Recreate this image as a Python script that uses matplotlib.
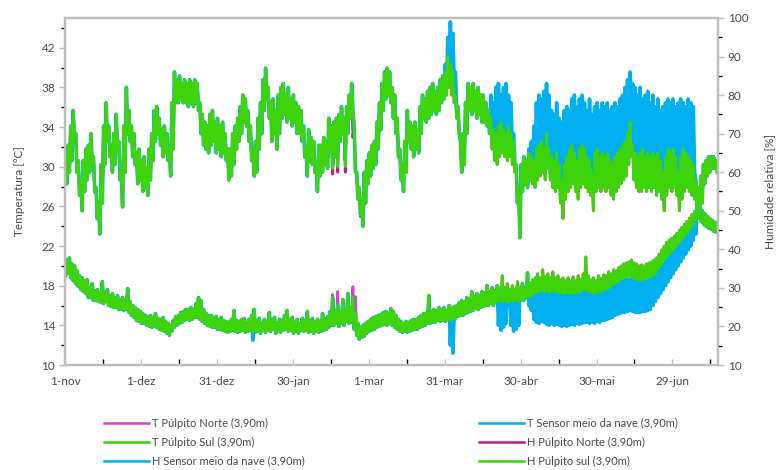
import numpy as np
import matplotlib
matplotlib.use("Agg")
import matplotlib.pyplot as plt
from matplotlib.lines import Line2D
from matplotlib.ticker import MultipleLocator, FixedLocator

plt.rcParams['font.family'] = ['Lato', 'DejaVu Sans']

# x axis: days counted from 1 November
tick_days = [0, 30, 60, 90, 120, 150, 180, 210, 240]
tick_labels = ["1-nov", "1-dez", "31-dez", "30-jan", "1-mar", "31-mar", "30-abr", "30-mai", "29-jun"]

series_labels = [
    "T Púlpito Norte (3,90m)", "T Sensor meio da nave (3,90m)", "T Púlpito Sul (3,90m)",
    "H Púlpito Norte (3,90m)", "H Sensor meio da nave (3,90m)", "H Púlpito sul (3,90m)",
]

# daily (minimum, maximum) temperature [ºC]
t_sul = [
    (19.0, 20.6), (19.3, 20.8), (18.8, 20.2), (18.5, 20.0), (18.2, 19.5), (17.9, 19.0), (17.6, 18.8), (17.4, 18.5), (17.2, 18.6), (16.8, 17.8),
    (16.8, 18.2), (16.5, 17.5), (16.5, 17.6), (16.4, 17.3), (16.3, 18.4), (16.2, 17.2), (16.4, 17.6), (16.0, 17.0), (15.9, 17.2), (15.8, 16.8),
    (15.8, 17.0), (15.6, 16.6), (15.6, 16.8), (15.5, 16.5), (15.6, 17.7), (15.3, 16.4), (15.0, 16.0), (14.8, 15.8), (14.5, 15.6), (14.4, 15.4),
    (14.2, 15.2), (14.2, 15.0), (14.0, 14.9), (13.9, 15.0), (13.8, 14.8), (13.9, 15.2), (13.8, 14.7), (13.6, 14.6), (13.5, 14.8), (13.4, 14.4),
    (13.2, 14.2), (13.0, 14.0), (13.4, 14.5), (13.8, 14.9), (14.0, 15.0), (14.2, 15.3), (14.3, 15.4), (14.5, 15.6), (14.6, 15.6), (14.5, 15.8),
    (14.6, 15.6), (14.8, 16.2), (14.8, 16.8), (14.6, 16.5), (14.4, 15.6), (14.2, 15.2), (14.0, 15.0), (13.9, 15.0), (13.8, 14.8), (13.8, 14.9),
    (13.6, 14.6), (13.6, 14.8), (13.5, 14.5), (13.4, 14.4), (13.3, 14.3), (13.4, 14.6), (13.5, 15.5), (13.4, 14.5), (13.3, 14.4), (13.4, 14.6),
    (13.5, 14.7), (13.3, 14.3), (13.4, 14.6), (13.5, 15.0), (13.4, 15.6), (13.3, 14.4), (13.4, 14.7), (13.2, 14.2), (13.5, 14.6), (13.3, 14.4),
    (13.5, 15.3), (13.4, 14.5), (13.6, 14.8), (13.2, 14.2), (13.4, 14.6), (13.3, 14.5), (13.5, 15.0), (13.6, 15.5), (13.4, 14.5), (13.5, 14.8),
    (13.2, 14.3), (13.4, 14.6), (13.2, 14.2), (13.5, 14.7), (13.4, 14.5), (13.5, 15.4), (13.3, 14.4), (13.4, 14.7), (13.2, 14.3), (13.4, 14.6),
    (13.3, 14.4), (13.4, 15.2), (13.5, 14.6), (13.6, 14.9), (13.8, 15.4), (14.0, 16.8), (14.0, 15.4), (14.2, 16.0), (13.9, 15.2), (14.2, 16.6),
    (14.0, 15.3), (14.4, 17.2), (14.2, 15.8), (14.3, 16.8), (13.6, 15.2), (13.0, 14.2), (12.6, 13.8), (12.8, 14.0), (12.9, 14.2), (13.2, 14.4),
    (13.4, 14.6), (13.5, 14.8), (13.6, 14.9), (13.8, 15.0), (13.9, 15.1), (14.0, 15.3), (14.1, 15.4), (14.0, 15.2), (14.2, 15.7), (14.0, 15.4),
    (13.8, 15.0), (13.6, 14.6), (13.4, 14.4), (13.3, 14.2), (13.4, 14.4), (13.3, 14.3), (13.4, 14.5), (13.5, 14.6), (13.6, 14.6), (13.6, 14.8),
    (13.8, 15.0), (13.9, 15.2), (14.0, 15.2), (14.2, 17.0), (14.2, 15.4), (14.3, 15.6), (14.3, 15.5), (14.5, 15.8), (14.4, 15.6), (14.5, 15.8),
    (14.4, 15.5), (14.6, 16.0), (14.5, 15.8), (14.6, 15.9), (14.7, 16.0), (14.9, 16.3), (15.0, 16.5), (15.0, 16.4), (15.2, 16.8), (15.3, 16.7),
    (15.4, 17.4), (15.5, 16.9), (15.7, 17.2), (15.6, 17.0), (15.8, 17.4), (15.9, 17.3), (16.0, 18.0), (16.0, 17.4), (16.2, 17.8), (16.0, 17.5),
    (16.3, 18.0), (16.4, 17.8), (16.5, 19.0), (16.4, 17.8), (16.5, 18.2), (16.3, 17.6), (16.5, 18.0), (16.4, 17.6), (16.6, 18.4), (16.4, 17.8),
    (16.6, 18.2), (16.5, 17.8), (16.8, 19.3), (16.9, 18.3), (17.0, 18.6), (17.2, 18.8), (17.3, 19.2), (17.4, 18.8), (17.5, 19.6), (17.4, 18.9),
    (17.5, 19.2), (17.3, 18.8), (17.5, 19.4), (17.4, 18.8), (17.4, 19.0), (17.3, 18.6), (17.3, 18.8), (17.2, 18.5), (17.3, 18.8), (17.2, 18.4),
    (17.3, 18.9), (17.2, 18.5), (17.4, 19.0), (17.3, 18.6), (17.5, 19.2), (17.6, 20.9), (17.5, 19.0), (17.3, 18.6), (17.3, 18.8), (17.2, 18.5),
    (17.4, 19.0), (17.3, 18.7), (17.5, 19.1), (17.6, 19.0), (17.7, 19.4), (17.8, 19.2), (18.0, 19.6), (18.2, 19.5), (18.4, 19.8), (18.6, 20.0),
    (18.7, 20.2), (18.8, 20.3), (18.9, 20.4), (19.0, 20.6), (18.8, 20.3), (18.7, 20.2), (18.6, 20.0), (18.6, 20.1), (18.6, 20.0), (18.7, 20.2),
    (18.8, 20.3), (18.9, 20.4), (19.0, 20.6), (19.2, 20.8), (19.6, 21.2), (20.0, 21.6), (20.4, 22.0), (20.8, 22.4), (21.0, 22.6), (21.3, 22.8),
    (21.6, 23.0), (21.9, 23.3), (22.2, 23.6), (22.5, 23.9), (22.8, 24.2), (23.1, 24.5), (23.4, 24.8), (23.8, 25.2), (24.2, 25.5), (24.6, 25.9),
    (24.8, 25.9), (24.5, 25.6), (24.2, 25.3), (24.0, 25.0), (23.8, 24.8), (23.7, 24.6), (23.5, 24.4), (23.4, 24.3),
]

t_norte = [
    (19.0, 20.6), (19.3, 20.8), (18.8, 20.2), (18.5, 20.0), (18.2, 19.5), (17.9, 19.0), (17.6, 18.8), (17.4, 18.5), (17.2, 18.6), (16.8, 17.8),
    (16.8, 18.2), (16.5, 17.5), (16.5, 17.6), (16.4, 17.3), (16.3, 18.4), (16.2, 17.2), (16.4, 17.6), (16.0, 17.0), (15.9, 17.2), (15.8, 16.8),
    (15.8, 17.0), (15.6, 16.6), (15.6, 16.8), (15.5, 16.5), (15.6, 17.7), (15.3, 16.4), (15.0, 16.0), (14.8, 15.8), (14.5, 15.6), (14.4, 15.4),
    (14.2, 15.2), (14.2, 15.0), (14.0, 14.9), (13.9, 15.0), (13.8, 14.8), (13.9, 15.2), (13.8, 14.7), (13.6, 14.6), (13.5, 14.8), (13.4, 14.4),
    (13.2, 14.2), (13.0, 14.0), (13.4, 14.5), (13.8, 14.9), (14.0, 15.0), (14.2, 15.3), (14.3, 15.4), (14.5, 15.6), (14.6, 15.6), (14.5, 15.8),
    (14.6, 15.6), (14.8, 16.2), (14.8, 16.8), (14.6, 16.5), (14.4, 15.6), (14.2, 15.2), (14.0, 15.0), (13.9, 15.0), (13.8, 14.8), (13.8, 14.9),
    (13.6, 14.6), (13.6, 14.8), (13.5, 14.5), (13.4, 14.4), (13.3, 14.3), (13.4, 14.6), (13.5, 15.5), (13.4, 14.5), (13.3, 14.4), (13.4, 14.6),
    (13.5, 14.7), (13.3, 14.3), (13.4, 14.6), (13.5, 15.0), (13.4, 15.6), (13.3, 14.4), (13.4, 14.7), (13.2, 14.2), (13.5, 14.6), (13.3, 14.4),
    (13.5, 15.3), (13.4, 14.5), (13.6, 14.8), (13.2, 14.2), (13.4, 14.6), (13.3, 14.5), (13.5, 15.0), (13.6, 15.5), (13.4, 14.5), (13.5, 14.8),
    (13.2, 14.3), (13.4, 14.6), (13.2, 14.2), (13.5, 14.7), (13.4, 14.5), (13.5, 15.4), (13.3, 14.4), (13.4, 14.7), (13.2, 14.3), (13.4, 14.6),
    (13.3, 14.4), (13.4, 15.2), (13.5, 14.6), (13.6, 14.9), (13.8, 15.4), (14.0, 17.1), (14.0, 15.4), (14.2, 17.4), (13.9, 15.2), (14.2, 16.6),
    (14.0, 15.3), (14.4, 17.2), (14.2, 15.8), (14.3, 17.9), (13.6, 16.9), (13.0, 14.2), (12.6, 13.8), (12.8, 14.0), (12.9, 14.2), (13.2, 14.4),
    (13.4, 14.6), (13.5, 14.8), (13.6, 14.9), (13.8, 15.0), (13.9, 15.1), (14.0, 15.3), (14.1, 15.4), (14.0, 15.2), (14.2, 15.7), (14.0, 15.4),
    (13.8, 15.0), (13.6, 14.6), (13.4, 14.4), (13.3, 14.2), (13.4, 14.4), (13.3, 14.3), (13.4, 14.5), (13.5, 14.6), (13.6, 14.6), (13.6, 14.8),
    (13.8, 15.0), (13.9, 15.2), (14.0, 15.2), (14.2, 17.0), (14.2, 15.4), (14.3, 15.6), (14.3, 15.5), (14.5, 15.8), (14.4, 15.6), (14.5, 15.8),
    (14.4, 15.5), (14.6, 16.0), (14.5, 15.8), (14.6, 15.9), (14.7, 16.0), (14.9, 16.3), (15.0, 16.5), (15.0, 16.4), (15.2, 16.8), (15.3, 16.7),
    (15.4, 17.4), (15.5, 16.9), (15.7, 17.2), (15.6, 17.0), (15.8, 17.4), (15.9, 17.3), (16.0, 18.0), (16.0, 17.4), (16.2, 17.8), (16.0, 17.5),
    (16.3, 18.0), (16.4, 17.8), (16.5, 19.0), (16.4, 17.8), (16.5, 18.2), (16.3, 17.6), (16.5, 18.0), (16.4, 17.6), (16.6, 18.4), (16.4, 17.8),
    (16.6, 18.2), (16.5, 17.8), (16.8, 19.3), (16.9, 18.3), (17.0, 18.6), (17.2, 18.8), (17.3, 19.2), (17.4, 18.8), (17.5, 19.6), (17.4, 18.9),
    (17.5, 19.2), (17.3, 18.8), (17.5, 19.4), (17.4, 18.8), (17.4, 19.0), (17.3, 18.6), (17.3, 18.8), (17.2, 18.5), (17.3, 18.8), (17.2, 18.4),
    (17.3, 18.9), (17.2, 18.5), (17.4, 19.0), (17.3, 18.6), (17.5, 19.2), (17.6, 20.9), (17.5, 19.0), (17.3, 18.6), (17.3, 18.8), (17.2, 18.5),
    (17.4, 19.0), (17.3, 18.7), (17.5, 19.1), (17.6, 19.0), (17.7, 19.4), (17.8, 19.2), (18.0, 19.6), (18.2, 19.5), (18.4, 19.8), (18.6, 20.0),
    (18.7, 20.2), (18.8, 20.3), (18.9, 20.4), (19.0, 20.6), (18.8, 20.3), (18.7, 20.2), (18.6, 20.0), (18.6, 20.1), (18.6, 20.0), (18.7, 20.2),
    (18.8, 20.3), (18.9, 20.4), (19.0, 20.6), (19.2, 20.8), (19.6, 21.2), (20.0, 21.6), (20.4, 22.0), (20.8, 22.4), (21.0, 22.6), (21.3, 22.8),
    (21.6, 23.0), (21.9, 23.3), (22.2, 23.6), (22.5, 23.9), (22.8, 24.2), (23.1, 24.5), (23.4, 24.8), (23.8, 25.2), (24.2, 25.5), (24.6, 25.6),
    (24.8, 25.9), (24.5, 25.6), (24.2, 25.3), (24.0, 25.0), (23.8, 24.8), (23.7, 24.6), (23.5, 24.4), (23.4, 24.3),
]

t_sensor = [
    (19.0, 20.6), (19.3, 20.8), (18.8, 20.2), (18.5, 20.0), (18.2, 19.5), (17.9, 19.0), (17.6, 18.8), (17.4, 18.5), (17.2, 18.6), (16.8, 17.8),
    (16.8, 18.2), (16.5, 17.5), (16.5, 17.6), (16.4, 17.3), (16.3, 18.4), (16.2, 17.2), (16.4, 17.6), (16.0, 17.0), (15.9, 17.2), (15.8, 16.8),
    (15.8, 17.0), (15.6, 16.6), (15.6, 16.8), (15.5, 16.5), (15.6, 17.7), (15.3, 16.4), (15.0, 16.0), (14.8, 15.8), (14.5, 15.6), (14.4, 15.4),
    (14.2, 15.2), (14.2, 15.0), (14.0, 14.9), (13.9, 15.0), (13.8, 14.8), (13.9, 15.2), (13.8, 14.7), (13.6, 14.6), (13.5, 14.8), (13.4, 14.4),
    (13.2, 14.2), (13.0, 14.0), (13.4, 14.5), (13.8, 14.9), (14.0, 15.0), (14.2, 15.3), (14.3, 15.4), (14.5, 15.6), (14.6, 15.6), (14.5, 15.8),
    (14.6, 15.6), (14.8, 16.2), (14.8, 16.8), (14.6, 16.5), (14.4, 15.6), (14.2, 15.2), (14.0, 15.0), (13.9, 15.0), (13.8, 14.8), (13.8, 14.9),
    (13.6, 14.6), (13.6, 14.8), (13.5, 14.5), (13.4, 14.4), (13.3, 14.3), (13.4, 14.6), (13.5, 15.5), (13.4, 14.5), (13.3, 14.4), (13.4, 14.6),
    (13.5, 14.7), (13.3, 14.3), (13.4, 14.6), (13.5, 15.0), (12.5, 15.6), (13.3, 14.4), (13.4, 14.7), (13.2, 14.2), (13.5, 14.6), (13.3, 14.4),
    (13.5, 15.3), (13.4, 14.5), (13.6, 14.8), (13.2, 14.2), (13.4, 14.6), (13.3, 14.5), (13.5, 15.0), (13.6, 15.5), (13.4, 14.5), (13.5, 14.8),
    (13.2, 14.3), (13.4, 14.6), (13.2, 14.2), (13.5, 14.7), (13.4, 14.5), (13.5, 15.4), (13.3, 14.4), (13.4, 14.7), (13.2, 14.3), (13.4, 14.6),
    (13.3, 14.4), (13.4, 15.2), (13.5, 14.6), (13.6, 14.9), (13.8, 15.4), (14.0, 16.8), (14.0, 15.4), (14.2, 16.0), (13.9, 15.2), (14.2, 16.6),
    (14.0, 15.3), (14.4, 17.2), (14.2, 15.8), (14.3, 16.8), (13.6, 15.2), (13.0, 14.2), (12.6, 13.8), (12.8, 14.0), (12.9, 14.2), (13.2, 14.4),
    (13.4, 14.6), (13.5, 14.8), (13.6, 14.9), (13.8, 15.0), (13.9, 15.1), (14.0, 15.3), (14.1, 15.4), (14.0, 15.2), (14.2, 15.7), (14.0, 15.4),
    (13.8, 15.0), (13.6, 14.6), (13.4, 14.4), (13.3, 14.2), (13.4, 14.4), (13.3, 14.3), (13.4, 14.5), (13.5, 14.6), (13.6, 14.6), (13.6, 14.8),
    (13.8, 15.0), (13.9, 15.2), (14.0, 15.2), (14.2, 17.0), (14.2, 15.4), (14.3, 15.6), (14.3, 15.5), (14.5, 15.8), (14.4, 15.6), (14.5, 15.8),
    (14.4, 15.5), (14.6, 16.0), (12.0, 15.8), (11.2, 15.0), (14.7, 16.0), (14.9, 16.3), (15.0, 16.5), (15.0, 16.4), (15.2, 16.8), (15.3, 16.7),
    (15.4, 17.4), (15.5, 16.9), (15.7, 17.2), (15.6, 17.0), (15.8, 17.4), (15.9, 17.3), (16.0, 18.0), (16.0, 17.4), (16.2, 17.8), (16.0, 17.5),
    (16.3, 18.0), (14.0, 17.0), (13.5, 17.2), (13.8, 16.8), (14.2, 17.0), (16.3, 17.6), (14.0, 17.2), (13.4, 16.8), (13.6, 17.0), (14.0, 17.2),
    (16.6, 18.2), (16.5, 17.8), (16.8, 19.3), (16.0, 18.0), (15.5, 17.8), (14.6, 17.4), (14.3, 17.3), (14.2, 17.2), (14.4, 17.5), (14.3, 17.4),
    (14.1, 17.3), (14.0, 17.2), (14.2, 17.4), (14.0, 17.3), (14.1, 17.4), (14.0, 17.2), (13.9, 17.2), (14.0, 17.1), (13.9, 17.2), (14.0, 17.0),
    (14.1, 17.2), (14.0, 17.1), (14.2, 17.3), (14.1, 17.2), (14.2, 17.4), (14.3, 17.5), (14.3, 17.4), (14.2, 17.3), (14.3, 17.4), (14.2, 17.2),
    (14.4, 17.5), (14.3, 17.4), (14.5, 17.6), (14.5, 17.5), (14.6, 17.7), (14.7, 17.8), (14.8, 18.0), (15.0, 18.1), (15.1, 18.3), (15.2, 18.4),
    (15.3, 18.5), (15.3, 18.6), (15.4, 18.6), (15.5, 18.8), (15.4, 18.6), (15.3, 18.5), (15.3, 18.4), (15.3, 18.5), (15.4, 18.5), (15.4, 18.6),
    (15.5, 18.7), (15.6, 18.8), (16.0, 19.0), (16.4, 19.3), (16.8, 19.6), (17.2, 20.0), (17.6, 20.4), (18.0, 20.8), (18.4, 21.2), (18.8, 21.6),
    (19.2, 21.9), (19.6, 22.3), (20.0, 22.7), (20.4, 23.1), (20.8, 23.5), (21.2, 23.9), (21.6, 24.3), (22.0, 24.7), (22.6, 25.0), (23.2, 25.5),
    (24.8, 25.9), (24.5, 25.6), (24.2, 25.3), (24.0, 25.0), (23.8, 24.8), (23.7, 24.6), (23.5, 24.4), (23.4, 24.3),
]

# daily (minimum, maximum) relative humidity [%]
h_sul = [
    (57, 64), (60, 67), (63, 72), (68, 76), (60, 70), (54, 63), (50, 58), (55, 63), (58, 66), (60, 67),
    (62, 70), (55, 64), (48, 56), (44, 52), (52, 62), (62, 72), (68, 78), (64, 72), (60, 67), (62, 70),
    (66, 75), (58, 68), (51, 60), (60, 72), (70, 82), (68, 76), (64, 72), (62, 70), (57, 65), (58, 66),
    (55, 63), (56, 64), (54, 61), (58, 66), (63, 70), (68, 76), (70, 77), (67, 74), (64, 71), (65, 72),
    (63, 70), (59, 66), (66, 78), (78, 86), (78, 84), (79, 85), (78, 83), (78, 84), (77, 83), (78, 84),
    (77, 83), (78, 84), (76, 83), (70, 78), (67, 75), (66, 73), (65, 72), (67, 75), (68, 76), (65, 73),
    (66, 74), (64, 72), (65, 73), (63, 70), (58, 66), (59, 66), (62, 70), (66, 72), (68, 74), (70, 77),
    (73, 80), (72, 79), (68, 76), (63, 72), (59, 66), (60, 68), (66, 74), (70, 78), (76, 84), (79, 87),
    (74, 82), (68, 78), (70, 79), (66, 76), (70, 80), (74, 82), (75, 83), (73, 80), (74, 82), (72, 79),
    (73, 80), (70, 78), (70, 77), (68, 76), (64, 72), (59, 66), (63, 71), (62, 69), (60, 68), (55, 62),
    (59, 67), (60, 67), (62, 69), (61, 68), (66, 74), (61, 72), (64, 73), (61.5, 74), (68, 75), (70, 77),
    (61.5, 74), (70, 77), (74, 80), (76, 83), (60, 72), (53, 60), (49, 56), (46, 53), (52, 60), (57, 63),
    (59, 65), (61, 67), (62, 68), (66, 73), (71, 78), (76, 83), (79, 86), (80, 87), (78, 86), (74, 82),
    (70, 80), (64, 74), (58, 66), (55, 62), (60, 68), (68, 76), (66, 73), (64, 72), (66, 73), (65, 71),
    (70, 77), (74, 80), (73, 79), (74, 81), (75, 82), (76, 83), (75, 81), (76, 82), (78, 84), (79, 85),
    (80, 86), (82, 90), (80, 88), (78, 86), (74, 80), (70, 77), (60, 68), (62, 70), (70, 78), (76, 83),
    (75, 82), (76, 83), (74, 81), (75, 82), (73, 80), (73, 80), (72, 78), (70, 76), (66, 74), (63, 71),
    (62, 70), (64, 72), (65, 73), (64, 71), (63, 70), (64, 72), (62, 70), (60, 68), (52, 62), (43, 55),
    (55, 62), (57, 64), (56, 63), (58, 65), (57, 64), (56, 63), (58, 66), (59, 67), (60, 68), (58, 66),
    (61, 70), (58, 66), (56, 64), (55, 63), (56, 65), (52, 62), (48, 58), (53, 62), (55, 64), (56, 66),
    (57, 67), (55, 65), (53, 63), (56, 66), (57, 67), (56, 66), (55, 64), (54, 63), (50, 60), (55, 65),
    (56, 66), (55, 64), (56, 65), (55, 64), (56, 65), (54, 63), (53, 62), (55, 64), (56, 65), (57, 66),
    (58, 67), (59, 68), (62, 70), (64, 73), (58, 67), (56, 65), (55, 64), (55, 65), (56, 66), (55, 64),
    (56, 65), (55, 64), (56, 65), (54, 64), (55, 65), (53, 63), (50, 60), (54, 64), (56, 66), (55, 65),
    (56, 66), (54, 64), (50, 60), (53, 64), (55, 66), (56, 65), (55, 64), (54, 63), (53, 62), (50, 58),
    (49, 56), (52, 59), (57, 62), (59, 63), (60, 64), (61, 64), (61, 64), (60, 63),
]

h_norte = [
    (57, 64), (60, 67), (63, 72), (68, 76), (60, 70), (54, 63), (50, 58), (55, 63), (58, 66), (60, 67),
    (62, 70), (55, 64), (48, 56), (44, 52), (52, 62), (62, 72), (68, 78), (64, 72), (60, 67), (62, 70),
    (66, 75), (58, 68), (51, 60), (60, 72), (70, 82), (68, 76), (64, 72), (62, 70), (57, 65), (58, 66),
    (55, 63), (56, 64), (54, 61), (58, 66), (63, 70), (68, 76), (70, 77), (67, 74), (64, 71), (65, 72),
    (63, 70), (59, 66), (66, 78), (78, 86), (78, 84), (79, 85), (78, 83), (78, 84), (77, 83), (78, 84),
    (77, 83), (78, 84), (76, 83), (70, 78), (67, 75), (66, 73), (65, 72), (67, 75), (68, 76), (65, 73),
    (66, 74), (64, 72), (65, 73), (63, 70), (58, 66), (59, 66), (62, 70), (66, 72), (68, 74), (70, 77),
    (73, 80), (72, 79), (68, 76), (63, 72), (59, 66), (60, 68), (66, 74), (70, 78), (76, 84), (79, 87),
    (74, 82), (68, 78), (70, 79), (66, 76), (70, 80), (74, 82), (75, 83), (73, 80), (74, 82), (72, 79),
    (73, 80), (70, 78), (70, 77), (68, 76), (64, 72), (59, 66), (63, 71), (62, 69), (60, 68), (55, 62),
    (59, 67), (60, 67), (62, 69), (61, 68), (66, 74), (59.5, 72), (64, 73), (60, 74), (68, 75), (70, 77),
    (60, 74), (70, 77), (74, 80), (69, 83), (60, 72), (53, 60), (48.5, 56), (46, 53), (52, 60), (57, 63),
    (59, 65), (61, 67), (62, 68), (66, 73), (71, 78), (76, 83), (79, 86), (80, 87), (78, 86), (74, 82),
    (70, 80), (64, 74), (58, 66), (55, 62), (60, 68), (68, 76), (66, 73), (64, 72), (66, 73), (65, 71),
    (70, 77), (74, 80), (73, 79), (74, 81), (75, 82), (76, 83), (75, 81), (76, 82), (78, 84), (79, 85),
    (80, 86), (82, 90), (80, 88), (78, 86), (74, 80), (70, 77), (60, 68), (62, 70), (70, 78), (76, 83),
    (75, 82), (76, 83), (74, 81), (75, 82), (73, 80), (73, 80), (72, 78), (70, 76), (66, 74), (63, 71),
    (62, 70), (64, 72), (65, 73), (64, 71), (63, 70), (64, 72), (62, 70), (60, 68), (52, 62), (43, 55),
    (55, 62), (57, 64), (56, 63), (58, 65), (57, 64), (56, 63), (58, 66), (59, 67), (60, 68), (58, 66),
    (61, 70), (58, 66), (56, 64), (55, 63), (56, 65), (52, 62), (48, 58), (53, 62), (55, 64), (56, 66),
    (57, 67), (55, 65), (53, 63), (56, 66), (57, 67), (56, 66), (55, 64), (54, 63), (50, 60), (55, 65),
    (56, 66), (55, 64), (56, 65), (55, 64), (56, 65), (54, 63), (53, 62), (55, 64), (56, 65), (57, 66),
    (58, 67), (59, 68), (62, 70), (64, 73), (58, 67), (56, 65), (55, 64), (55, 65), (56, 66), (55, 64),
    (56, 65), (55, 64), (56, 65), (54, 64), (55, 65), (53, 63), (50, 60), (54, 64), (56, 66), (55, 65),
    (56, 66), (54, 64), (50, 60), (53, 64), (55, 66), (56, 65), (55, 64), (54, 63), (53, 62), (50, 58),
    (49, 56), (52, 59), (57, 62), (59, 63), (60, 64), (61, 64), (61, 64), (60, 63),
]

h_sensor = [
    (57, 64), (60, 67), (63, 72), (68, 76), (60, 70), (54, 63), (50, 58), (55, 63), (58, 66), (60, 67),
    (62, 70), (55, 64), (48, 56), (44, 52), (52, 62), (62, 72), (68, 78), (64, 72), (60, 67), (62, 70),
    (66, 75), (58, 68), (51, 60), (60, 72), (70, 82), (68, 76), (64, 72), (62, 70), (57, 65), (58, 66),
    (55, 63), (56, 64), (54, 61), (58, 66), (63, 70), (68, 76), (70, 77), (67, 74), (64, 71), (65, 72),
    (63, 70), (59, 66), (66, 78), (78, 86), (78, 84), (79, 85), (78, 83), (78, 84), (77, 83), (78, 84),
    (77, 83), (78, 84), (76, 83), (70, 78), (67, 75), (66, 73), (65, 72), (67, 75), (68, 76), (65, 73),
    (66, 74), (64, 72), (65, 73), (63, 70), (58, 66), (59, 66), (62, 70), (66, 72), (68, 74), (70, 77),
    (73, 80), (72, 79), (68, 76), (63, 72), (59, 66), (60, 68), (66, 74), (70, 78), (76, 84), (79, 87),
    (74, 82), (68, 78), (70, 79), (66, 76), (70, 80), (74, 82), (75, 83), (73, 80), (74, 82), (72, 79),
    (73, 80), (70, 78), (70, 77), (68, 76), (64, 72), (59, 66), (63, 71), (62, 69), (60, 68), (55, 62),
    (59, 67), (60, 67), (62, 69), (61, 68), (66, 74), (62, 72), (64, 73), (65, 74), (68, 75), (70, 77),
    (63, 74), (70, 77), (74, 80), (76, 83), (60, 72), (53, 60), (49, 56), (46, 53), (52, 60), (57, 63),
    (59, 65), (61, 67), (62, 68), (66, 73), (71, 78), (76, 83), (79, 86), (80, 87), (78, 86), (74, 82),
    (70, 80), (64, 74), (58, 66), (55, 62), (60, 68), (68, 76), (66, 73), (64, 72), (66, 73), (65, 71),
    (70, 77), (74, 80), (73, 79), (74, 81), (75, 82), (76, 83), (75, 81), (76, 82), (78, 84), (79, 85),
    (82, 88), (86, 95), (88, 99), (84, 96), (76, 86), (70, 77), (60, 68), (62, 70), (70, 78), (76, 83),
    (75, 82), (76, 83), (74, 81), (75, 82), (73, 80), (73, 80), (72, 78), (70, 76), (68, 80), (66, 78),
    (67, 82), (68, 83), (68, 80), (67, 82), (66, 83), (67, 80), (66, 78), (62, 70), (52, 62), (43, 55),
    (55, 62), (57, 64), (56, 63), (58, 66), (58, 68), (60, 72), (62, 78), (63, 80), (64, 79), (63, 81),
    (65, 83), (63, 80), (62, 76), (62, 75), (63, 78), (60, 74), (58, 73), (60, 76), (62, 77), (62, 76),
    (63, 79), (62, 80), (61, 77), (63, 79), (63, 80), (62, 78), (61, 76), (62, 79), (60, 75), (62, 77),
    (63, 78), (62, 76), (62, 78), (62, 77), (63, 78), (62, 76), (61, 77), (62, 78), (63, 77), (63, 79),
    (64, 80), (65, 82), (67, 84), (68, 86), (65, 83), (64, 82), (63, 80), (63, 82), (63, 79), (62, 80),
    (63, 81), (62, 78), (63, 80), (62, 77), (62, 79), (61, 76), (60, 77), (61, 78), (62, 79), (62, 78),
    (63, 79), (62, 77), (60, 78), (61, 79), (62, 78), (62, 77), (62, 79), (61, 78), (60, 77), (50, 58),
    (49, 56), (52, 59), (57, 62), (59, 63), (60, 64), (61, 64), (61, 64), (60, 63),
]

PINK = "#E53DC2"
MAGENTA = "#BE1E8C"
BLUE = "#00B0F0"
GREEN = "#3FD40A"
TEXT = "#4D4A45"
SPINE = "#BDBDBD"


def daily_trace(pairs, first="min"):
    """Turn daily (min, max) pairs into a polyline with two points per day."""
    arr = np.asarray(pairs, dtype=float)
    n = len(arr)
    x = np.repeat(np.arange(n), 2) + np.tile([0.25, 0.75], n)
    if first == "min":
        y = arr.ravel()
    else:
        y = arr[:, ::-1].ravel()
    return x, y


fig = plt.figure(figsize=(7.82, 4.70), dpi=100)
ax = fig.add_axes([65 / 782, 1 - 365 / 470, (718 - 65) / 782, (365 - 18) / 470])
ax2 = ax.twinx()

ax.plot(*daily_trace(t_norte), color=PINK, lw=2.0)
ax.plot(*daily_trace(t_sensor), color=BLUE, lw=2.6)
ax.plot(*daily_trace(t_sul), color=GREEN, lw=2.0)
ax2.plot(*daily_trace(h_norte, "max"), color=MAGENTA, lw=2.0)
ax2.plot(*daily_trace(h_sensor, "max"), color=BLUE, lw=2.6)
ax2.plot(*daily_trace(h_sul, "max"), color=GREEN, lw=2.0)

ax.set_xlim(0, 258)
ax.set_ylim(10, 45)
ax2.set_ylim(10, 100)

ax.xaxis.set_major_locator(FixedLocator(tick_days))
ax.set_xticklabels(tick_labels)
ax.xaxis.set_minor_locator(MultipleLocator(15))
ax.yaxis.set_major_locator(FixedLocator(np.arange(10, 43, 4)))
ax.yaxis.set_minor_locator(MultipleLocator(2))
ax2.yaxis.set_major_locator(MultipleLocator(10))
ax2.yaxis.set_minor_locator(MultipleLocator(5))

for a in (ax, ax2):
    for s in a.spines.values():
        s.set_color(SPINE)
        s.set_linewidth(1.6)
    a.tick_params(colors=SPINE, labelcolor=TEXT, labelsize=8.5)

ax.tick_params(axis="x", which="both", direction="in", length=4, width=1, pad=8)
ax.tick_params(axis="y", which="major", direction="out", length=4, width=1, pad=3)
ax.tick_params(axis="y", which="minor", direction="out", length=3, width=1)
ax2.tick_params(axis="y", which="major", direction="out", length=4, width=1, pad=3)
ax2.tick_params(axis="y", which="minor", direction="out", length=3, width=1)

ax.set_ylabel("Temperatura [ºC]", color=TEXT, fontsize=8.5, labelpad=12)
ax2.set_ylabel("Humidade relativa [%]", color=TEXT, fontsize=8.5, labelpad=11, rotation=90)

handles = [Line2D([], [], color=c, lw=1.8) for c in (PINK, BLUE, GREEN, MAGENTA, BLUE, GREEN)]
order = [0, 2, 4, 1, 3, 5]
fig.legend([handles[i] for i in order], [series_labels[i] for i in order],
           ncol=2, loc="upper left", bbox_to_anchor=(98 / 782, 1 - 412 / 470),
           frameon=False, fontsize=8, handlelength=4.1, handletextpad=0.3,
           columnspacing=15.6, labelspacing=0.72, borderpad=0, labelcolor=TEXT)

fig.savefig("out.png", dpi=100)
